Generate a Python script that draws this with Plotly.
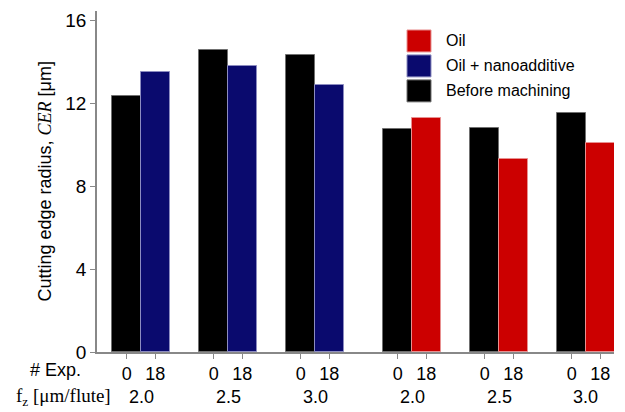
import plotly.graph_objects as go

# ---- data ----
fz_labels = ["2.0", "2.5", "3.0", "2.0", "2.5", "3.0"]
exp_labels = ["0", "18"]
before_cer = [12.35, 14.57, 14.32, 10.77, 10.82, 11.54]
after_cer = [13.50, 13.80, 12.88, 11.27, 9.29, 10.06]
lubricant = ["Oil + nanoadditive"] * 3 + ["Oil"] * 3
legend_names = ["Oil", "Oil + nanoadditive", "Before machining"]

colors = {"Oil": "#CC0000", "Oil + nanoadditive": "#0A0A6E", "Before machining": "#000000"}
edge = {"Oil": "#E89090", "Oil + nanoadditive": "#8C8CC0", "Before machining": "#707070"}

# ---- positions (group index based) ----
bar_w = 0.328
set_gap = 0.115
centers = [i + (set_gap if lubricant[i] == "Oil" else 0) for i in range(len(fz_labels))]
x_before = [c - bar_w / 2 for c in centers]
x_after = [c + bar_w / 2 for c in centers]

fig = go.Figure()
fig.add_trace(go.Bar(x=x_before, y=before_cer, width=bar_w, name="Before machining",
                     marker=dict(color=colors["Before machining"],
                                 line=dict(color=edge["Before machining"], width=1)),
                     showlegend=False))
for lub in ["Oil + nanoadditive", "Oil"]:
    idx = [i for i in range(len(lubricant)) if lubricant[i] == lub]
    fig.add_trace(go.Bar(x=[x_after[i] for i in idx], y=[after_cer[i] for i in idx],
                         width=bar_w, name=lub,
                         marker=dict(color=colors[lub], line=dict(color=edge[lub], width=1)),
                         showlegend=False))

tickvals = []
ticktext = []
for i in range(len(centers)):
    tickvals += [x_before[i], x_after[i]]
    ticktext += exp_labels

sans = "Liberation Sans, Arial, sans-serif"
serif = "Liberation Serif, Times New Roman, serif"

annotations = []
for i, lab in enumerate(fz_labels):
    annotations.append(dict(x=centers[i], y=0, xref="x", yref="paper", text=lab,
                            showarrow=False, yanchor="middle", yshift=-45,
                            font=dict(family=sans, size=18, color="#000")))
annotations.append(dict(x=0, y=0, xref="paper", yref="paper", text="# Exp.",
                        showarrow=False, xanchor="right", yanchor="middle",
                        xshift=-14, yshift=-18, font=dict(family=sans, size=18, color="#000")))
annotations.append(dict(x=0, y=0, xref="paper", yref="paper",
                        text="f<sub>z</sub> [μm/flute]",
                        showarrow=False, xanchor="right", yanchor="middle",
                        xshift=16, yshift=-45, font=dict(family=serif, size=19, color="#000")))
annotations.append(dict(x=0, y=0.5, xref="paper", yref="paper",
                        text="Cutting edge radius, <i><span style='font-family:Liberation Serif'>CER</span></i> [μm]",
                        textangle=-90, showarrow=False, xanchor="center", yanchor="middle",
                        xshift=-53, font=dict(family=sans, size=18, color="#000")))

# manual legend
shapes = []
for k, nm in enumerate(legend_names):
    y0 = 30 + 25 * k
    shapes.append(dict(type="rect", xref="paper", yref="paper",
                       x0=(407 - 97) / 517, x1=(431 - 97) / 517,
                       y0=(352.5 - (y0 + 22)) / 341.5, y1=(352.5 - y0) / 341.5,
                       fillcolor=colors[nm], line=dict(color=edge[nm], width=1)))
    annotations.append(dict(x=(444 - 97) / 517, y=(352.5 - (y0 + 11)) / 341.5,
                            xref="paper", yref="paper", text=nm, showarrow=False,
                            xanchor="left", yanchor="middle",
                            font=dict(family=sans, size=16, color="#000")))

fig.update_layout(
    width=625, height=412,
    margin=dict(l=97, r=11, t=11, b=60),
    paper_bgcolor="white", plot_bgcolor="white",
    barmode="overlay", bargap=0,
    showlegend=False,
    xaxis=dict(range=[-0.506, 5.437], tickvals=tickvals, ticktext=ticktext,
               ticks="outside", ticklen=5, tickcolor="#888", showgrid=False,
               zeroline=False, showline=True, linecolor="#888", linewidth=1.5,
               tickfont=dict(family=sans, size=18, color="#000")),
    yaxis=dict(range=[0, 16.45], tickvals=[0, 4, 8, 12, 16],
               ticks="outside", ticklen=5, tickcolor="#888", showgrid=False,
               zeroline=False, showline=True, linecolor="#888", linewidth=1.5,
               tickfont=dict(family=sans, size=19, color="#000")),
    annotations=annotations, shapes=shapes,
)

fig.write_html("out.html")
